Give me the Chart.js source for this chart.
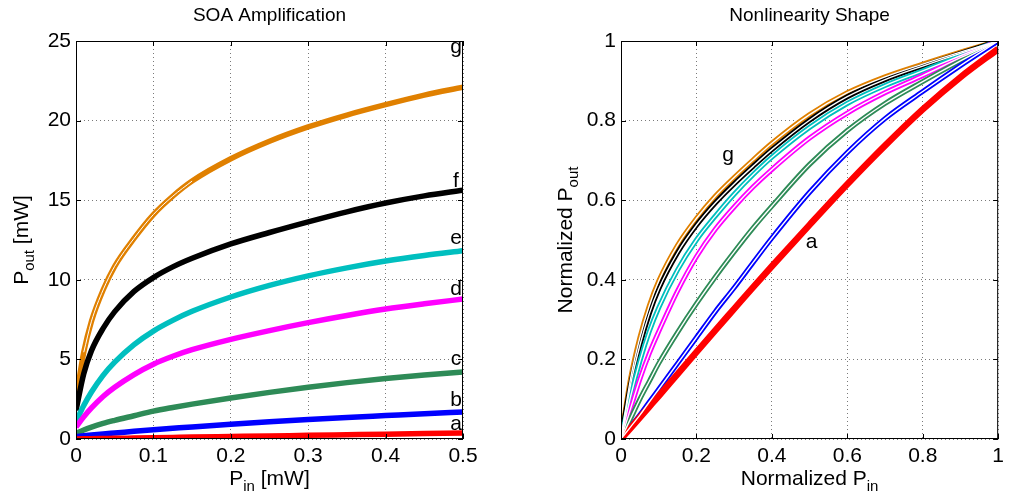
<!DOCTYPE html>
<html>
<head>
<meta charset="utf-8">
<script src="https://cdn.jsdelivr.net/npm/chart.js@4.4.1/dist/chart.umd.min.js"></script>
<style>
  html, body { margin: 0; padding: 0; background: #fff; }
  #wrap { position: relative; width: 1009px; height: 498px; overflow: hidden; }
  canvas { position: absolute; top: 0; }
</style>
</head>
<body>
<div id="wrap">
  <canvas id="soaChart" width="500" height="498" style="left:0px"></canvas>
  <canvas id="shapeChart" width="509" height="498" style="left:500px"></canvas>
</div>
<script>
// ---- left plot: SOA amplification, Pout [mW] vs Pin [mW] ----
const pinValues = [0, 0.01, 0.02, 0.035, 0.05, 0.075, 0.1, 0.125, 0.15, 0.2, 0.25, 0.3, 0.35, 0.4, 0.45, 0.5];
const poutA = [0, 0.01, 0.02, 0.03, 0.04, 0.06, 0.08, 0.1, 0.12, 0.155, 0.19, 0.23, 0.265, 0.3, 0.34, 0.38];
const poutB = [0.15, 0.2, 0.25, 0.32, 0.38, 0.48, 0.58, 0.67, 0.76, 0.93, 1.08, 1.22, 1.35, 1.47, 1.59, 1.7];
const poutC = [0.35, 0.57, 0.75, 0.98, 1.17, 1.46, 1.75, 1.98, 2.19, 2.58, 2.93, 3.25, 3.54, 3.8, 4.02, 4.21];
const poutD = [0.75, 1.39, 1.95, 2.67, 3.25, 4.05, 4.7, 5.2, 5.61, 6.26, 6.81, 7.31, 7.76, 8.16, 8.49, 8.79];
const poutE = [1.1, 2.1, 2.95, 4.0, 4.83, 5.93, 6.78, 7.45, 8.02, 8.92, 9.65, 10.25, 10.75, 11.18, 11.53, 11.83];
const poutF = [1.8, 4.1, 5.55, 6.95, 8.0, 9.27, 10.14, 10.81, 11.35, 12.25, 12.97, 13.64, 14.27, 14.82, 15.27, 15.63];
const poutG = [2.5, 5.45, 7.4, 9.36, 10.85, 12.6, 14.1, 15.25, 16.2, 17.6, 18.7, 19.6, 20.35, 21.0, 21.6, 22.1];
const leftXTicks = ['0', '0.1', '0.2', '0.3', '0.4', '0.5'];
const leftYTicks = ['0', '5', '10', '15', '20', '25'];

// ---- right plot: normalized nonlinearity shape ----
const normIn = [0, 0.025, 0.05, 0.075, 0.1, 0.15, 0.2, 0.25, 0.3, 0.35, 0.4, 0.5, 0.6, 0.7, 0.8, 0.9, 1];
const normA = [0, 0.027, 0.054, 0.081, 0.108, 0.163, 0.218, 0.273, 0.327, 0.381, 0.434, 0.538, 0.64, 0.737, 0.828, 0.909, 0.98];
const normB = [0, 0.03, 0.06, 0.093, 0.125, 0.19, 0.255, 0.32, 0.38, 0.443, 0.505, 0.62, 0.72, 0.805, 0.873, 0.938, 1];
const normC = [0, 0.05, 0.1, 0.145, 0.19, 0.268, 0.34, 0.407, 0.47, 0.53, 0.585, 0.69, 0.775, 0.843, 0.898, 0.95, 1];
const normD = [0, 0.075, 0.15, 0.215, 0.27, 0.372, 0.458, 0.527, 0.583, 0.633, 0.677, 0.756, 0.819, 0.87, 0.913, 0.958, 1];
const normE = [0, 0.105, 0.195, 0.27, 0.33, 0.425, 0.5, 0.56, 0.615, 0.664, 0.708, 0.783, 0.843, 0.888, 0.925, 0.963, 1];
const normF = [0, 0.135, 0.235, 0.315, 0.377, 0.468, 0.537, 0.593, 0.641, 0.685, 0.727, 0.801, 0.86, 0.903, 0.937, 0.969, 1];
const normG = [0, 0.15, 0.255, 0.335, 0.397, 0.487, 0.554, 0.61, 0.657, 0.701, 0.743, 0.815, 0.87, 0.91, 0.942, 0.972, 1];
const rightTicks = ['0', '0.2', '0.4', '0.6', '0.8', '1'];

const curveNames = ['a', 'b', 'c', 'd', 'e', 'f', 'g'];
const curveColors = ['#ff0000', '#0000ff', '#2e8b57', '#ff00ff', '#00bfbf', '#000000', '#e08000'];

// label positions (data coords) for the letters
const leftLabelX = [0.491, 0.491, 0.491, 0.491, 0.491, 0.491, 0.491];
const leftLabelY = [0.95, 2.45, 5.0, 9.4, 12.6, 16.2, 24.6];
const rightLabelX = [0.505, 0.284];
const rightLabelY = [0.495, 0.714];
const rightLabelText = ['a', 'g'];

const FONT = '"Liberation Sans", Arial, Helvetica, sans-serif';

function toPoints(xs, ys) {
  return xs.map((x, i) => ({ x: x, y: ys[i] }));
}

// draws text like P_in with a subscript part, centered at cx, cy
function drawRich(ctx, parts, cx, cy, size) {
  const subSize = Math.round(size * 0.72);
  let total = 0;
  parts.forEach(p => {
    ctx.font = (p[1] ? subSize : size) + 'px ' + FONT;
    total += ctx.measureText(p[0]).width;
  });
  let x = cx - total / 2;
  ctx.textAlign = 'left';
  ctx.textBaseline = 'middle';
  parts.forEach(p => {
    ctx.font = (p[1] ? subSize : size) + 'px ' + FONT;
    ctx.fillText(p[0], x, p[1] ? cy + size * 0.38 : cy);
    x += ctx.measureText(p[0]).width;
  });
}

// frame, inward ticks, titles and the curve letters
const decorPlugin = {
  id: 'decor',
  afterDatasetsDraw(chart, args, o) {
    const ctx = chart.ctx;
    const a = chart.chartArea;
    const xs = chart.scales.x, ys = chart.scales.y;
    ctx.save();
    ctx.strokeStyle = '#000';
    ctx.lineWidth = 1;
    ctx.strokeRect(a.left + 0.5, a.top + 0.5, a.right - a.left - 1, a.bottom - a.top - 1);
    ctx.beginPath();
    xs.ticks.forEach(t => {
      const px = Math.round(xs.getPixelForValue(t.value)) + 0.5;
      ctx.moveTo(px, a.bottom); ctx.lineTo(px, a.bottom - 5);
      ctx.moveTo(px, a.top); ctx.lineTo(px, a.top + 5);
    });
    ys.ticks.forEach(t => {
      const py = Math.round(ys.getPixelForValue(t.value)) + 0.5;
      ctx.moveTo(a.left, py); ctx.lineTo(a.left + 5, py);
      ctx.moveTo(a.right, py); ctx.lineTo(a.right - 5, py);
    });
    ctx.stroke();

    ctx.fillStyle = '#000';
    const midX = (a.left + a.right) / 2;
    ctx.font = '19px ' + FONT;
    ctx.textAlign = 'center';
    ctx.textBaseline = 'middle';
    ctx.fillText(o.title, midX, 16);
    drawRich(ctx, o.xTitle, midX, 479, 21);
    ctx.save();
    ctx.translate(o.yTitleX, (a.top + a.bottom) / 2);
    ctx.rotate(-Math.PI / 2);
    drawRich(ctx, o.yTitle, 0, 0, 21);
    ctx.restore();

    ctx.font = '21px ' + FONT;
    ctx.textAlign = 'center';
    ctx.textBaseline = 'middle';
    o.labels.forEach(l => {
      ctx.fillText(l[0], xs.getPixelForValue(l[1]), ys.getPixelForValue(l[2]));
    });
    ctx.restore();
  }
};

function axisOptions(min, max, step, labels, fitSize, isX) {
  return {
    type: 'linear',
    min: min,
    max: max,
    afterFit: s => { if (isX) s.height = fitSize; else s.width = fitSize; },
    grid: { color: '#7a7a7a', lineWidth: 1, drawTicks: false },
    border: { display: false, dash: [1, 3] },
    ticks: {
      stepSize: step,
      padding: 5,
      color: '#000',
      font: { family: FONT, size: 21 },
      callback: (v, i) => labels[i]
    }
  };
}

// ---- left chart ----
const leftSets = [poutA, poutB, poutC, poutD, poutE, poutF, poutG].map((ys, i) => ({
  data: toPoints(pinValues, ys),
  borderColor: curveColors[i],
  borderWidth: 5.5,
  order: 2
}));
// thin white gap between the two branches of curve g at low input power
leftSets.push({
  data: toPoints(pinValues.slice(1, 9), poutG.slice(1, 9)),
  borderColor: '#ffffff',
  borderWidth: 1,
  order: 0
});

new Chart(document.getElementById('soaChart'), {
  type: 'line',
  data: { datasets: leftSets },
  options: {
    responsive: false,
    animation: false,
    layout: { padding: { top: 41, right: 37, left: 0, bottom: 0 } },
    elements: { point: { radius: 0 }, line: { cubicInterpolationMode: 'monotone', borderCapStyle: 'butt' } },
    plugins: {
      legend: { display: false },
      tooltip: { enabled: false },
      decor: {
        title: 'SOA Amplification',
        xTitle: [['P', false], ['in', true], [' [mW]', false]],
        yTitle: [['P', false], ['out', true], [' [mW]', false]],
        yTitleX: 22,
        labels: curveNames.map((n, i) => [n, leftLabelX[i], leftLabelY[i]])
      }
    },
    scales: {
      x: axisOptions(0, 0.5, 0.1, leftXTicks, 59, true),
      y: axisOptions(0, 25, 5, leftYTicks, 76, false)
    }
  },
  plugins: [decorPlugin]
});

// ---- right chart ----
const rightSets = [];
[normA, normB, normC, normD, normE, normF, normG].forEach((ys, i) => {
  rightSets.push({
    data: toPoints(normIn, ys),
    borderColor: curveColors[i],
    borderWidth: i === 0 ? 6.5 : 5,
    order: 2
  });
  // white centre line so each loop shows as two branches
  if (i > 0) {
    rightSets.push({
      data: toPoints(normIn, ys),
      borderColor: '#ffffff',
      borderWidth: 1.4,
      order: 1
    });
  }
});

new Chart(document.getElementById('shapeChart'), {
  type: 'line',
  data: { datasets: rightSets },
  options: {
    responsive: false,
    animation: false,
    layout: { padding: { top: 41, right: 4, left: 0, bottom: 0 } },
    elements: { point: { radius: 0 }, line: { cubicInterpolationMode: 'monotone', borderCapStyle: 'butt' } },
    plugins: {
      legend: { display: false },
      tooltip: { enabled: false },
      decor: {
        title: 'Nonlinearity Shape',
        xTitle: [['Normalized P', false], ['in', true]],
        yTitle: [['Normalized P', false], ['out', true]],
        yTitleX: 66,
        labels: rightLabelText.map((n, i) => [n, rightLabelX[i], rightLabelY[i]])
      }
    },
    scales: {
      x: axisOptions(0, 1, 0.2, rightTicks, 59, true),
      y: axisOptions(0, 1, 0.2, rightTicks, 121, false)
    }
  },
  plugins: [decorPlugin]
});
</script>
</body>
</html>
